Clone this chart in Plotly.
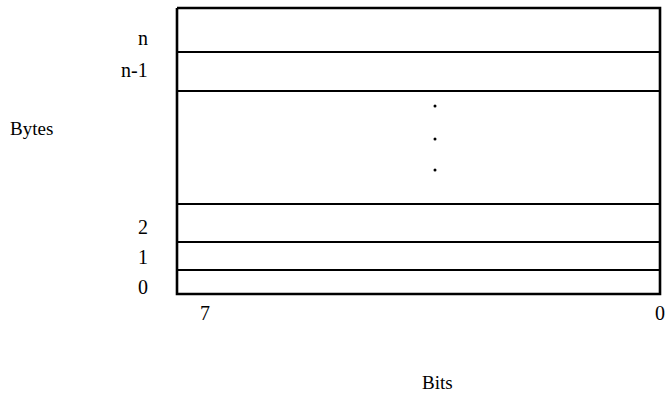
import plotly.graph_objects as go

# diagram geometry, in plot units (x left->right, y top->bottom)
box_left, box_right = 177, 660
box_top, box_bottom = 8, 294
row_dividers = [52, 91, 204, 242, 270]

byte_labels = ["n", "n-1", "2", "1", "0"]
byte_label_y = [38, 70, 227, 257, 287]
byte_label_x = 150

bit_labels = ["7", "0"]
bit_label_x = [205, 660]
bit_label_y = 313

dots_x = [435, 435, 435]
dots_y = [106, 139, 170]

FONT = "Liberation Serif, Times New Roman, serif"

fig = go.Figure()

# outer box
fig.add_trace(go.Scatter(
    x=[box_left, box_right, box_right, box_left, box_left],
    y=[box_top, box_top, box_bottom, box_bottom, box_top],
    mode="lines", line=dict(color="black", width=2.6),
    hoverinfo="skip", showlegend=False
))

# byte row dividers
for yv in row_dividers:
    fig.add_trace(go.Scatter(
        x=[box_left, box_right], y=[yv, yv],
        mode="lines", line=dict(color="black", width=2.2),
        hoverinfo="skip", showlegend=False
    ))

# vertical ellipsis
fig.add_trace(go.Scatter(
    x=dots_x, y=dots_y, mode="markers",
    marker=dict(color="black", size=3),
    hoverinfo="skip", showlegend=False
))

for lab, yv in zip(byte_labels, byte_label_y):
    fig.add_annotation(x=byte_label_x, y=yv, text=lab, showarrow=False,
                       xanchor="right", yanchor="middle",
                       font=dict(family=FONT, size=20, color="black"))

for lab, xv in zip(bit_labels, bit_label_x):
    fig.add_annotation(x=xv, y=bit_label_y, text=lab, showarrow=False,
                       xanchor="center", yanchor="middle",
                       font=dict(family=FONT, size=20, color="black"))

fig.add_annotation(x=8, y=128, text="Bytes", showarrow=False,
                   xanchor="left", yanchor="middle",
                   font=dict(family=FONT, size=19, color="black"))
fig.add_annotation(x=437, y=382, text="Bits", showarrow=False,
                   xanchor="center", yanchor="middle",
                   font=dict(family=FONT, size=19, color="black"))

fig.update_xaxes(range=[0, 669], visible=False, fixedrange=True)
fig.update_yaxes(range=[398, 0], visible=False, fixedrange=True)
fig.update_layout(
    width=669, height=398,
    margin=dict(l=0, r=0, t=0, b=0),
    plot_bgcolor="white", paper_bgcolor="white"
)

fig.write_html("out.html", config={"displayModeBar": False},
               post_script="document.body.style.margin='0';"
                           "document.body.style.overflow='hidden';")
